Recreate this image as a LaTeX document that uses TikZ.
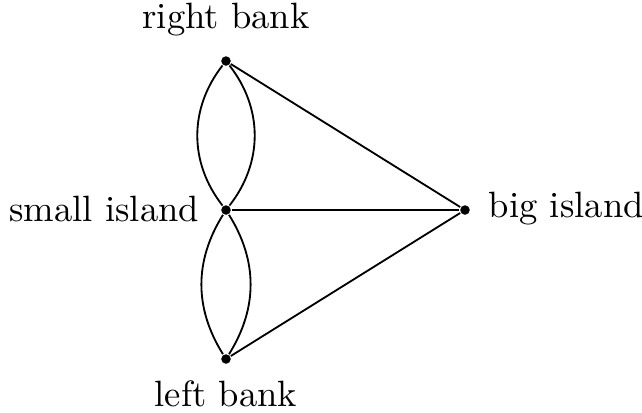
\documentclass[tikz,border=0pt]{standalone}
\usepackage{amsmath,amssymb}
\usepackage{tikz}
\usetikzlibrary{positioning}

\begin{document}
\begin{tikzpicture}[x=0.0096cm,y=-0.0096cm, line width=0.5pt, dot/.style={circle,fill=black,inner sep=0pt,minimum size=2.6pt}, lab/.style={inner sep=0pt}]
\useasboundingbox (0,0) rectangle (642,412);
\node[dot] (rb) at (226,61) {};
\node[dot] (si) at (226,210) {};
\node[dot] (lb) at (226,359) {};
\node[dot] (bi) at (465,210) {};
\node[lab] (rblab) at (226,20) {right bank};
\node[lab,anchor=east] (silab) at (200,209) {small island};
\node[lab,anchor=west] (bilab) at (488,209) {big island};
\node[lab] (lblab) at (226,394) {left bank};
\draw (rb) to[bend right=38] (si);
\draw (rb) to[bend left=38] (si);
\draw (si) to[bend right=32] (lb);
\draw (si) to[bend left=32] (lb);
\draw (rb) -- (bi);
\draw (si) -- (bi);
\draw (lb) -- (bi);
\end{tikzpicture}
\end{document}
